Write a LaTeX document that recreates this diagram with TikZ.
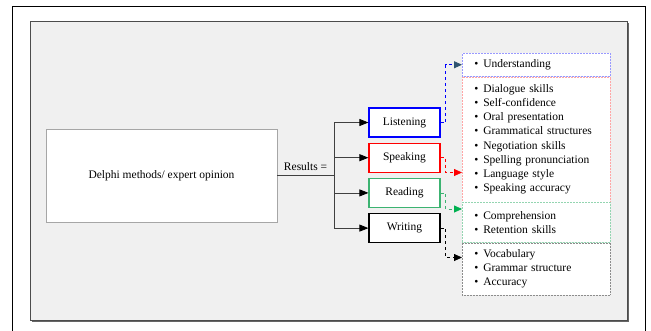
\documentclass[tikz,border=0pt]{standalone}
\usepackage{fontspec}
\setmainfont{Liberation Serif}
\usetikzlibrary{positioning,calc}
\usetikzlibrary{arrows.meta,shadows}
\definecolor{PanelGray}{RGB}{240,240,240}
\definecolor{SkillGreen}{RGB}{60,179,113}
\definecolor{ArrowGreen}{RGB}{0,176,80}
\definecolor{SlateBlue}{RGB}{47,84,112}
\newcommand{\itm}[1]{\textbullet\hspace{5pt}#1}
\tikzset{
	skill/.style={draw,line width=1.2pt,fill=white,minimum width=71pt,minimum height=29pt,inner sep=0pt},
	itemlist/.style={densely dotted,line width=0.5pt,fill=white,text width=124pt,inner xsep=12pt,inner ysep=0pt,align=left},
	branch/.style={draw=black!75,line width=0.8pt,-{Triangle[length=9pt,width=7pt,color=black]}},
	link/.style={dashed,line width=0.8pt},
}

\begin{document}
\begin{tikzpicture}[x=1pt,y=-1pt,font=\fontsize{11.5}{14.1}\selectfont]
	\useasboundingbox (0,0) rectangle (651,330);
	% frame and panel
	\draw[line width=0.7pt] (12,340) -- (12,6) -- (645,6) -- (645,340);
	\fill[black!60] (31.5,22.5) rectangle (628.5,321.5);
	\filldraw[fill=PanelGray,draw=black!70,line width=0.6pt] (30,21) rectangle (627,320);
	% source
	\node[draw=black!35,fill=white,minimum width=231pt,minimum height=93pt,
		drop shadow={shadow xshift=1.2pt,shadow yshift=-1.2pt,fill=black!45}] (delphi) at (161.5,175.5) {Delphi methods/ expert opinion};
	\coordinate (split) at (334,175.5);
	% skills
	\node[skill,draw=blue] (lis) at (404.5,122.5) {Listening};
	\node[skill,draw=red,below=5pt of lis] (spk) {Speaking};
	\node[skill,draw=SkillGreen,below=5pt of spk] (rea) {Reading};
	\node[skill,draw=black,below=5pt of rea] (wri) {Writing};
	% item lists
	\node[itemlist,draw=blue!40,minimum height=23pt,anchor=north west] (und) at (462,53) {\itm{Understanding}};
	\node[itemlist,draw=red!35,minimum height=125pt,below=0pt of und] (spkl) {\itm{Dialogue skills}\\
		\itm{Self-confidence}\\
		\itm{Oral presentation}\\
		\itm{Grammatical structures}\\
		\itm{Negotiation skills}\\
		\itm{Spelling pronunciation}\\
		\itm{Language style}\\
		\itm{Speaking accuracy}};
	\node[itemlist,draw=SkillGreen!55,minimum height=40pt,below=0pt of spkl] (real) {\itm{Comprehension}\\
		\itm{Retention skills}};
	\node[itemlist,draw=black!45,minimum height=52pt,below=0pt of real] (wril) {\itm{Vocabulary}\\
		\itm{Grammar structure}\\
		\itm{Accuracy}};
	\coordinate (spkin) at ($(spkl.north west)+(0,96)$);
	\coordinate (reain) at ($(real.north west)+(0,7)$);
	\coordinate (wriin) at ($(wril.north west)+(0,15)$);
	% connectors
	\draw[black!75,line width=0.8pt] (delphi.east) -- (split);
	\node[above=1pt] (res) at ($(delphi.east)!0.5!(split)$) {Results =};
	\draw[black!75,line width=0.8pt] (split |- lis) -- (split |- wri);
	\foreach \n in {lis,spk,rea,wri}
		\draw[branch] (split |- \n) -- (\n);
	\draw[link,blue,-{Triangle[length=8pt,width=7pt,color=SlateBlue]}] (lis.east) -- ++(5,0) |- (und.west);
	\draw[link,red,-{Triangle[length=8pt,width=7pt,color=red]}] (spk.east) -- ++(5,0) |- (spkin);
	\draw[link,SkillGreen,-{Triangle[length=8pt,width=7pt,color=ArrowGreen]}] (rea.east) -- ++(5,0) |- (reain);
	\draw[link,black,-{Triangle[length=8pt,width=7pt,color=black]}] (wri.east) -- ++(5,0) |- (wriin);
\end{tikzpicture}
\end{document}
